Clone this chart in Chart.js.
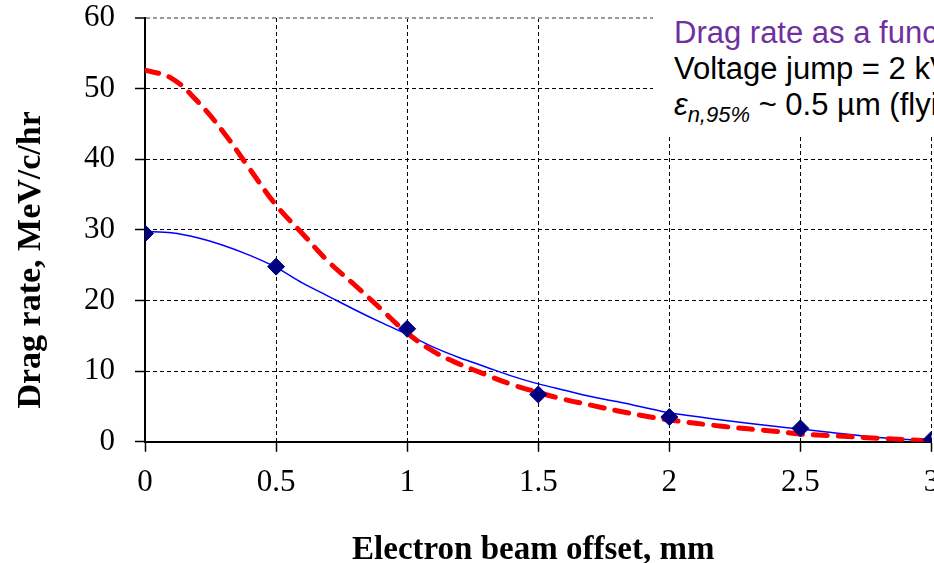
<!DOCTYPE html>
<html>
<head>
    <meta charset="UTF-8">
    <title>Drag rate vs electron beam offset</title>
    <script src="https://cdn.jsdelivr.net/npm/chart.js@4.4.1/dist/chart.umd.min.js"></script>
    <style>
        html, body { margin: 0; padding: 0; background: #fff; overflow: hidden; }
        #wrap { position: relative; width: 941px; height: 563px; }
        #note {
            position: absolute; left: 653px; top: 0; width: 300px; height: 134px;
            background: #fff; white-space: nowrap; overflow: hidden;
            font-family: "Liberation Sans", Arial, sans-serif; font-size: 31px; line-height: 36px;
            padding: 15px 0 0 21px; box-sizing: border-box; color: #000;
        }
        #note .purple { color: #7030A0; }
        #note sub { font-size: 22px; vertical-align: -7px; line-height: 0; }
    </style>
</head>
<body>
<div id="wrap">
    <canvas id="myChart"></canvas>
    <div id="note">
        <div class="purple">Drag rate as a function of offset</div>
        <div>Voltage jump = 2 kV</div>
        <div><i>ε</i><sub><i>n,95%</i></sub> ~ 0.5 µm (flying wire)</div>
    </div>
</div>
<script>
    // simulated points (diamonds)
    var pointX = [0, 0.5, 1, 1.5, 2, 2.5, 3];
    var pointY = [29.5, 24.8, 16.0, 6.7, 3.5, 1.9, 0.3];

    // smooth curves
    var curveX = [0, 0.1, 0.2, 0.3, 0.4, 0.5, 0.6, 0.7, 0.8, 0.9, 1.0, 1.1, 1.2, 1.3, 1.4, 1.5,
                  1.6, 1.7, 1.8, 1.9, 2.0, 2.2, 2.4, 2.5, 2.6, 2.8, 3.0];
    var blueY = [29.8, 29.6, 28.9, 27.8, 26.4, 24.7, 22.5, 20.6, 18.7, 16.9, 15.2, 13.4, 11.9, 10.6, 9.3, 8.2,
                 7.3, 6.4, 5.7, 4.9, 4.1, 3.1, 2.2, 1.8, 1.4, 0.6, 0.1];
    var redY = [52.6, 51.5, 48.2, 43.8, 38.6, 33.5, 29.5, 25.5, 22.2, 18.8, 15.4, 12.8, 11.0, 9.5, 8.1, 7.0,
                6.0, 5.2, 4.4, 3.7, 3.1, 2.2, 1.5, 1.1, 0.9, 0.5, 0.1];

    var xTicks = [0, 0.5, 1, 1.5, 2, 2.5, 3];
    var xTitle = 'Electron beam offset, mm';
    var yTitle = 'Drag rate, MeV/c/hr';

    function pairs(xs, ys) {
        return xs.map(function (x, i) { return { x: x, y: ys[i] }; });
    }

    const axisTitles = {
        id: 'axisTitles',
        afterDraw(chart) {
            const ctx = chart.ctx, a = chart.chartArea;
            ctx.save();
            ctx.fillStyle = '#000';
            ctx.textAlign = 'center';
            ctx.textBaseline = 'middle';
            ctx.font = 'bold 33px "Liberation Serif"';
            ctx.fillText(xTitle, (a.left + a.right) / 2 - 5, a.bottom + 109);
            ctx.translate(31, (a.top + a.bottom) / 2 + 30);
            ctx.rotate(-Math.PI / 2);
            ctx.font = 'bold 34px "Liberation Serif"';
            ctx.fillText(yTitle, 0, 0);
            ctx.restore();
        }
    };

    const data = {
        datasets: [{
            label: 'Red',
            data: pairs(curveX, redY),
            borderColor: '#FF0000',
            borderWidth: 5,
            borderDash: [14, 11],
            borderCapStyle: 'round',
            pointRadius: 0,
            tension: 0.4,
            showLine: true,
            order: 2
        }, {
            label: 'Blue',
            data: pairs(curveX, blueY),
            borderColor: '#0000FF',
            borderWidth: 1.5,
            pointRadius: 0,
            tension: 0.3,
            showLine: true,
            order: 3
        }, {
            label: 'Points',
            data: pairs(pointX, pointY),
            backgroundColor: '#000080',
            borderColor: '#000080',
            pointStyle: 'rectRot',
            pointRadius: 8.5,
            showLine: false,
            order: 1
        }]
    };

    const config = {
        type: 'scatter',
        data,
        options: {
            responsive: true,
            maintainAspectRatio: false,
            animation: false,
            layout: { padding: { left: 64, top: 18, bottom: 50, right: 0 } },
            plugins: { legend: { display: false }, tooltip: { enabled: false } },
            scales: {
                x: {
                    type: 'linear', min: 0, max: 3,
                    afterBuildTicks: function (s) { s.ticks = xTicks.map(function (v) { return { value: v }; }); },
                    afterFit: function (s) { s.paddingRight = 8; s.paddingLeft = 0; },
                    ticks: { color: '#000', padding: 12, maxRotation: 0,
                             callback: function (v) { return String(v); },
                             font: { family: 'Liberation Serif', size: 31 } },
                    grid: { color: '#000', lineWidth: 1, tickLength: 10,
                            tickColor: '#000', tickBorderDash: [], tickWidth: 1.5 },
                    border: { display: true, color: '#000', width: 2, dash: [4, 3] }
                },
                y: {
                    min: 0, max: 60,
                    afterFit: function (s) { s.paddingTop = 0; s.paddingBottom = 0; },
                    ticks: { stepSize: 10, color: '#000', padding: 20,
                             font: { family: 'Liberation Serif', size: 31 } },
                    grid: {
                        color: function (c) { return c.tick && c.tick.value === 60 ? '#9a9a9a' : '#000'; },
                        lineWidth: function (c) { return c.tick && c.tick.value === 60 ? 2 : 1; },
                        tickLength: 10,
                        tickColor: '#000', tickBorderDash: [], tickWidth: 1.5
                    },
                    border: { display: true, color: '#000', width: 2, dash: [4, 3] }
                }
            }
        },
        plugins: [axisTitles]
    };

    var myChart = new Chart(document.getElementById('myChart'), config);
</script>
</body>
</html>
